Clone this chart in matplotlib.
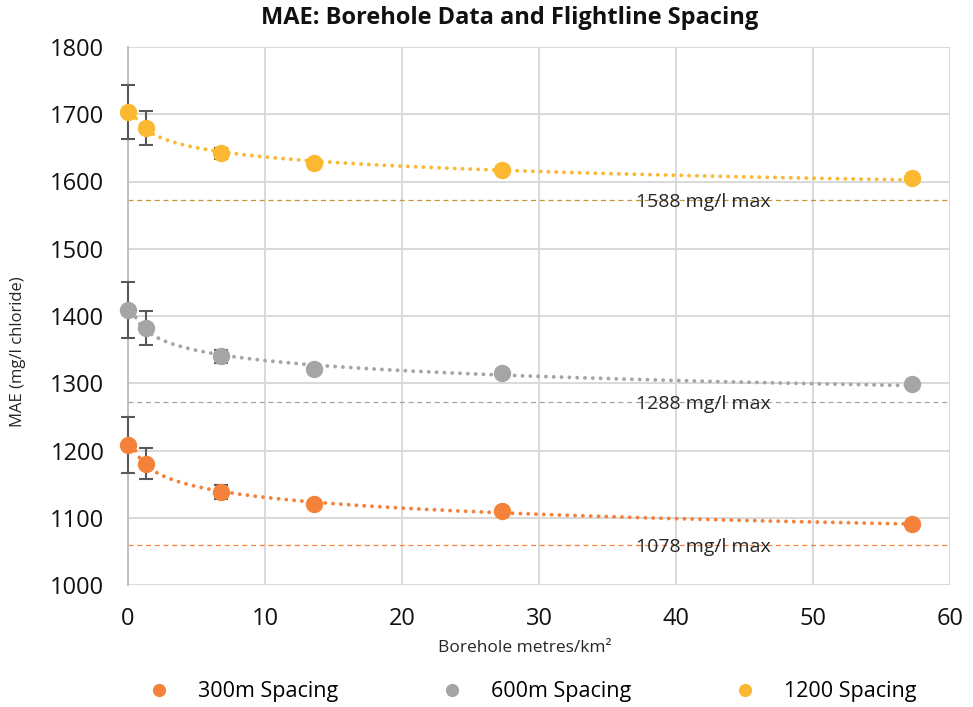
import numpy as np
import matplotlib
matplotlib.use("Agg")
import matplotlib.pyplot as plt
from matplotlib.lines import Line2D

plt.rcParams['font.family'] = ['Open Sans', 'DejaVu Sans']

# ---- data ----
borehole_density = [0.0, 1.3, 6.8, 13.6, 27.3, 57.2]
series_names = ["300m Spacing", "600m Spacing", "1200 Spacing"]
mae_300 = [1208, 1180, 1138, 1120, 1110, 1091]
mae_600 = [1409, 1382, 1340, 1321, 1315, 1299]
mae_1200 = [1703, 1680, 1642, 1627, 1617, 1605]
err_300 = [42, 23, 10, 4, 4, 0]
err_600 = [42, 25, 10, 4, 4, 0]
err_1200 = [40, 25, 8, 4, 3, 0]
max_labels = ["1078 mg/l max", "1288 mg/l max", "1588 mg/l max"]
max_line_levels = [1060, 1272, 1573]
colors = ["#F4823A", "#A5A5A5", "#FBB830"]
max_line_colors = ["#F4823A", "#A5A5A5", "#C8963A"]

W, H = 973, 707
fig = plt.figure(figsize=(W / 100, H / 100), dpi=100)
ax = fig.add_axes([128/W, 1-585/H, (950-128)/W, (585-47)/H])

x = np.array(borehole_density)
for vals, errs, c, lc, lvl, lab in zip([mae_300, mae_600, mae_1200],
                                       [err_300, err_600, err_1200],
                                       colors, max_line_colors, max_line_levels, max_labels):
    y = np.array(vals, dtype=float)
    # power-law trendline fitted to x>0 points
    m = x > 0
    b, loga = np.polyfit(np.log(x[m]), np.log(y[m]), 1)
    xs = np.linspace(0.35, x.max(), 300)
    ys = np.exp(loga) * xs ** b
    ax.plot(xs, ys, linestyle=(0, (0.01, 2.0)), color=c, lw=2.8,
            dash_capstyle='round', zorder=3)
    ax.errorbar(x, y, yerr=errs, fmt='none', ecolor='#595959', elinewidth=1.5,
                capsize=5, capthick=1.5, zorder=4, clip_on=False)
    ax.plot(x, y, 'o', color=c, ms=11.5, zorder=5, clip_on=False)
    ax.axhline(lvl, color=lc, lw=0.9, linestyle=(0, (4, 3)), zorder=2)
    ax.text(41.97, lvl - 3, lab, ha='center', va='center', fontsize=14,
            color='#262626', zorder=6)

ax.set_xlim(0, 60)
ax.set_ylim(1000, 1800)
ax.set_xticks(np.arange(0, 61, 10))
ax.set_yticks(np.arange(1000, 1801, 100))
ax.tick_params(axis='both', length=0, labelsize=17, colors='#111111')
ax.tick_params(axis='y', pad=17)
ax.tick_params(axis='x', pad=16)
ax.grid(True, color='#D9D9D9', lw=1.4, zorder=0)
ax.set_axisbelow(True)
for s in ['top', 'right', 'bottom']:
    ax.spines[s].set_visible(False)
ax.spines['left'].set_color('#BFBFBF')
ax.spines['left'].set_linewidth(1.4)

fig.text(510/W, 1-18/H, "MAE: Borehole Data and Flightline Spacing", fontsize=17,
         fontweight='bold', color='#111111', ha='center', va='center')
fig.text(525/W, 1-648/H, "Borehole metres/km²", fontsize=12.5, color='#262626',
         ha='center', va='center')
fig.text(18/W, 1-352/H, "MAE (mg/l chloride)", fontsize=12, color='#262626',
         ha='center', va='center', rotation=90)

handles = [Line2D([], [], marker='o', ls='none', color=c, ms=8.5) for c in colors]
fig.legend(handles, series_names, loc='center', ncol=3, frameon=False,
           fontsize=15.5, bbox_to_anchor=(527/W, 1-692/H), columnspacing=4.3,
           handletextpad=0.8)

fig.savefig("out.png", dpi=100)
